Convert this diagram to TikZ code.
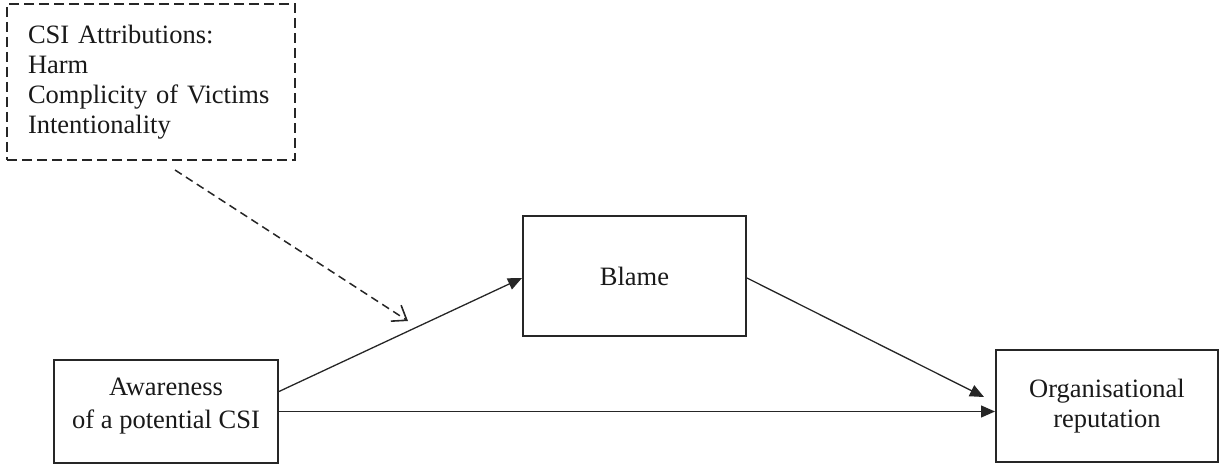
\documentclass[tikz,border=0pt]{standalone}
\usepackage{fontspec}
\setmainfont{Liberation Serif}
\usetikzlibrary{arrows.meta,calc}
\begin{document}
\begin{tikzpicture}[x=1pt,y=-1pt,
  every node/.style={font=\fontsize{26.5}{30}\selectfont, text=black!90},
  box/.style={draw=black!85, line width=2pt, align=center, inner sep=0pt},
  dbox/.style={draw=black!85, line width=2pt, dash pattern=on 10pt off 5pt, align=left,
     inner xsep=21pt, inner ysep=0pt},
  conn/.style={draw=black!85, line width=1.3pt, -{Triangle[length=14pt,width=12pt]}},
  modconn/.style={draw=black!85, line width=1.5pt, dash pattern=on 8pt off 5pt,
     -{Straight Barb[length=13pt,width=19pt,line width=1.6pt]}}
]
\useasboundingbox (0,0) rectangle (1224,473);
\node[dbox, text width=246pt, minimum width=288pt, minimum height=156pt] (attr) at (151,82)
  {CSI Attributions:\\Harm\\Complicity of Victims\\Intentionality\\[-4pt]};
\node[box, minimum width=223pt, minimum height=120pt] (blame) at (634.5,276) {Blame};
\node[box, minimum width=224pt, minimum height=103pt] (aware) at (166,411.5) {};
\node[align=center, inner sep=0pt, font=\fontsize{26.5}{33}\selectfont] (awaretext)
  at ([yshift=5pt]aware.center) {Awareness\\of a potential CSI};
\node[box, minimum width=222pt, minimum height=112pt] (org) at (1107,406)
  {Organisational\\reputation};
\coordinate (mod) at (408,321);
\draw[conn] ([yshift=20pt]aware.east) -- ([yshift=-2pt]blame.west);
\draw[conn] (aware.east) -- (aware.east -| org.west);
\draw[conn] ([yshift=-2pt]blame.east) -- ([xshift=-11pt,yshift=9pt]org.west);
\draw[modconn] ([xshift=24pt,yshift=-9pt]attr.south) -- (mod);
\end{tikzpicture}
\end{document}
